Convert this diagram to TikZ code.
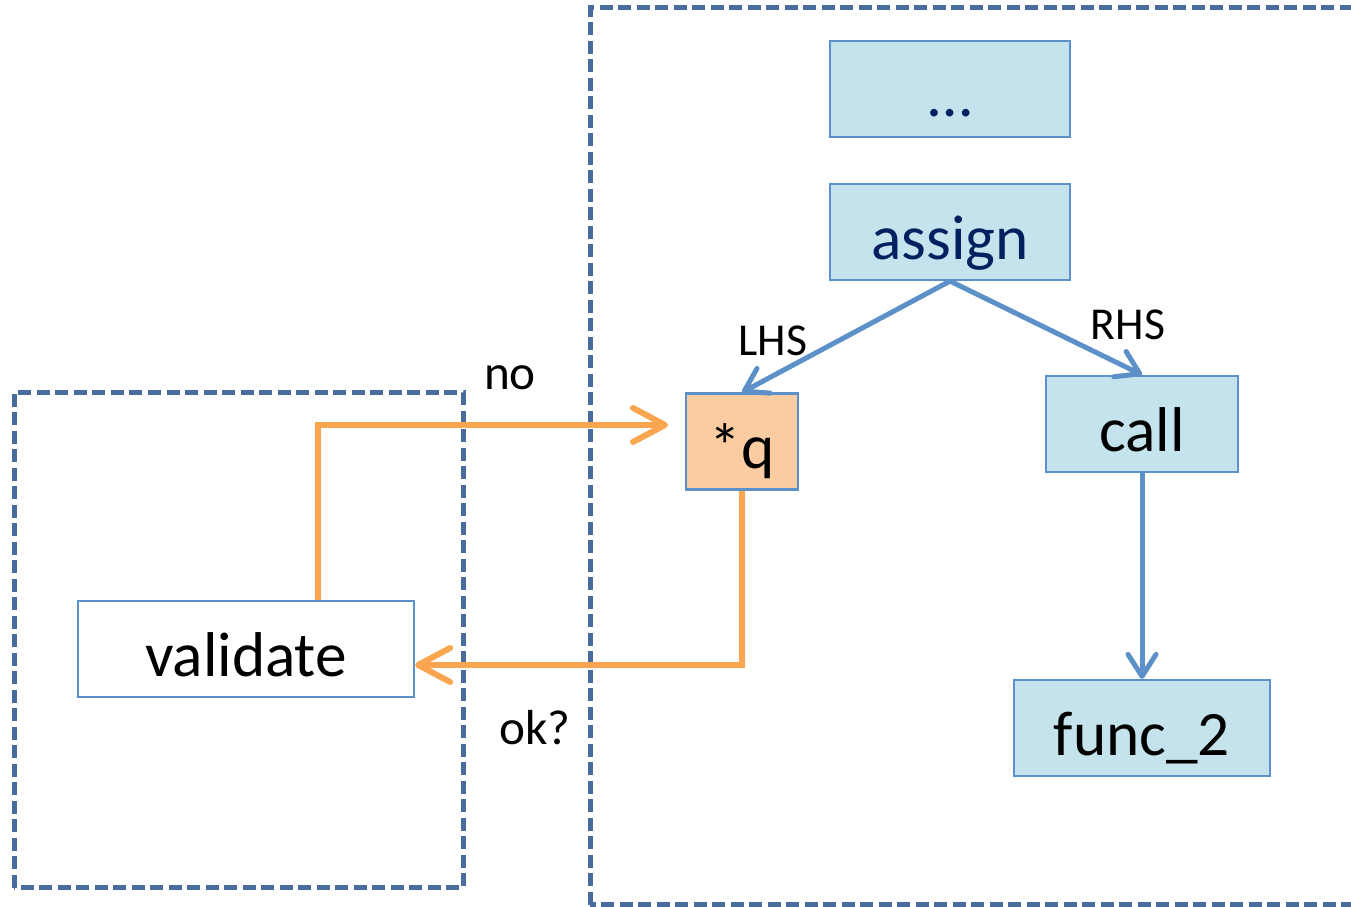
\documentclass[tikz,border=0pt]{standalone}
\usepackage{fontspec}
\setmainfont{Carlito}
\usetikzlibrary{arrows.meta}
\definecolor{frameblue}{RGB}{72,108,156}
\definecolor{nodeblue}{RGB}{196,227,237}
\definecolor{edgeblue}{RGB}{91,144,200}
\definecolor{nodeorange}{RGB}{251,203,162}
\definecolor{lineorange}{RGB}{250,166,80}
\definecolor{navy}{RGB}{0,32,96}
\tikzset{
  stmt/.style={draw=edgeblue, line width=0.22mm, fill=nodeblue, inner sep=0pt,
    minimum height=0.96cm, text height=17pt, text depth=1.6pt, font=\fontsize{18}{20}\selectfont},
  frame/.style={draw=frameblue, line width=0.5mm, dash pattern=on 1.3mm off 0.55mm},
  ast/.style={draw=edgeblue, line width=0.5mm, -{Straight Barb[length=2.2mm, width=2.8mm, round]}},
  flow/.style={draw=lineorange, line width=0.6mm, -{Straight Barb[length=3.2mm, width=3.4mm, round]}},
  lbl/.style={font=\fontsize{14}{16}\selectfont}
}
\begin{document}
\begin{tikzpicture}
        \useasboundingbox (0,0) rectangle (13.51,9.07);
        % the two regions
        \draw [frame] (0.14, 0.19) rectangle (4.63, 5.14);
        \draw [frame] (5.90, 0.02) rectangle (13.70, 8.99);
        % expression tree
        \node [stmt, text=navy, minimum width=2.40cm] (dots) at (9.50, 8.18) {\dots};
        \node [stmt, text=navy, minimum width=2.40cm] (assign) at (9.50, 6.75) {assign};
        \node [stmt, fill=nodeorange, minimum width=1.12cm] (q) at (7.42, 4.655) {*q};
        \node [stmt, minimum width=1.92cm] (call) at (11.42, 4.83) {call};
        \node [stmt, minimum width=2.56cm] (func) at (11.42, 1.79) {func\_2};
        \node [stmt, fill=white, minimum width=3.36cm] (validate) at (2.46, 2.58) {validate};
        \draw [ast] (assign.south) -- (q.north);
        \draw [ast] (assign.south) -- (call.north);
        \draw [ast] (call.south) -- (func.north);
        \node [lbl, font=\fontsize{13}{15}\selectfont] (lhs) at (7.73, 5.66) {LHS};
        \node [lbl, font=\fontsize{13}{15}\selectfont] (rhs) at (11.28, 5.82) {RHS};
        % checking the pointer
        \coordinate (vtop) at (3.18, 0);
        \coordinate (noend) at (6.68, 4.82);
        \draw [flow] (validate.north -| vtop) |- (noend);
        \draw [flow] (q.south) |- ([yshift=-0.16cm]validate.east);
        \node [lbl] (no) at (5.10, 5.29) {no};
        \node [lbl] (ok) at (5.35, 1.79) {ok?};
\end{tikzpicture}
\end{document}
